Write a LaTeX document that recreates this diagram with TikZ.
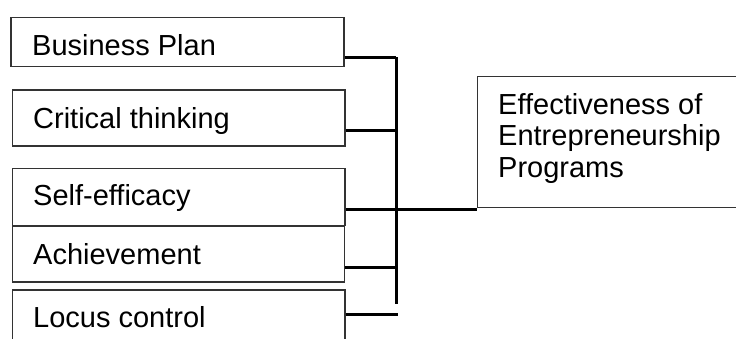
\documentclass[tikz,border=0pt]{standalone}
\usepackage{fontspec}
\setmainfont{Liberation Sans}
\begin{document}
\begin{tikzpicture}[x=1pt,y=-1pt,
  box/.style={draw=black!80,line width=1.1pt,rectangle,inner sep=0pt},
  txt/.style={anchor=base west,inner sep=0pt,font=\fontsize{29}{31.5}\selectfont},
  link/.style={line width=3pt,black}]
\useasboundingbox (0,0) rectangle (736,338);
\clip (0,0) rectangle (736,338);
% factor boxes
\node[box,minimum width=333,minimum height=49.5] (b1) at (177.5,42) {};
\node[box,minimum width=332.5,minimum height=56] (b2) at (178.7,118) {};
\node[box,minimum width=332.5,minimum height=57.5] (b3) at (178.7,197) {};
\node[box,minimum width=332.5,minimum height=56] (b4) at (178.3,254) {};
\node[box,minimum width=332.5,minimum height=80] (b5) at (178.7,330) {};
\node[txt] (t1) at (32,55) {Business Plan};
\node[txt] (t2) at (33,128) {Critical thinking};
\node[txt] (t3) at (33,205) {Self-efficacy};
\node[txt] (t4) at (33,264) {Achievement};
\node[txt] (t5) at (33,327) {Locus control};
% outcome box; the text node's base anchor sits on its last line
\node[box,minimum width=300,minimum height=131,anchor=north west] (r) at (476.7,75.7) {};
\node[txt,align=left,anchor=base west] (rt) at (498,177) {Effectiveness of\\Entrepreneurship\\Programs};
% bracket connectors
\coordinate (top) at (396,57);
\coordinate (bot) at (396,304);
\draw[link] (b1.east |- top) -- (top);
\draw[link] (top) -- (bot);
\draw[link] (b2.east |- 0,130.5) -- (396,130.5);
\draw[link] (b3.east |- 0,209) -- (r.west |- 0,209);
\draw[link] (b4.east |- 0,267.3) -- (396,267.3);
\draw[link] (b5.east |- 0,314) -- (397.5,314);
\end{tikzpicture}
\end{document}
